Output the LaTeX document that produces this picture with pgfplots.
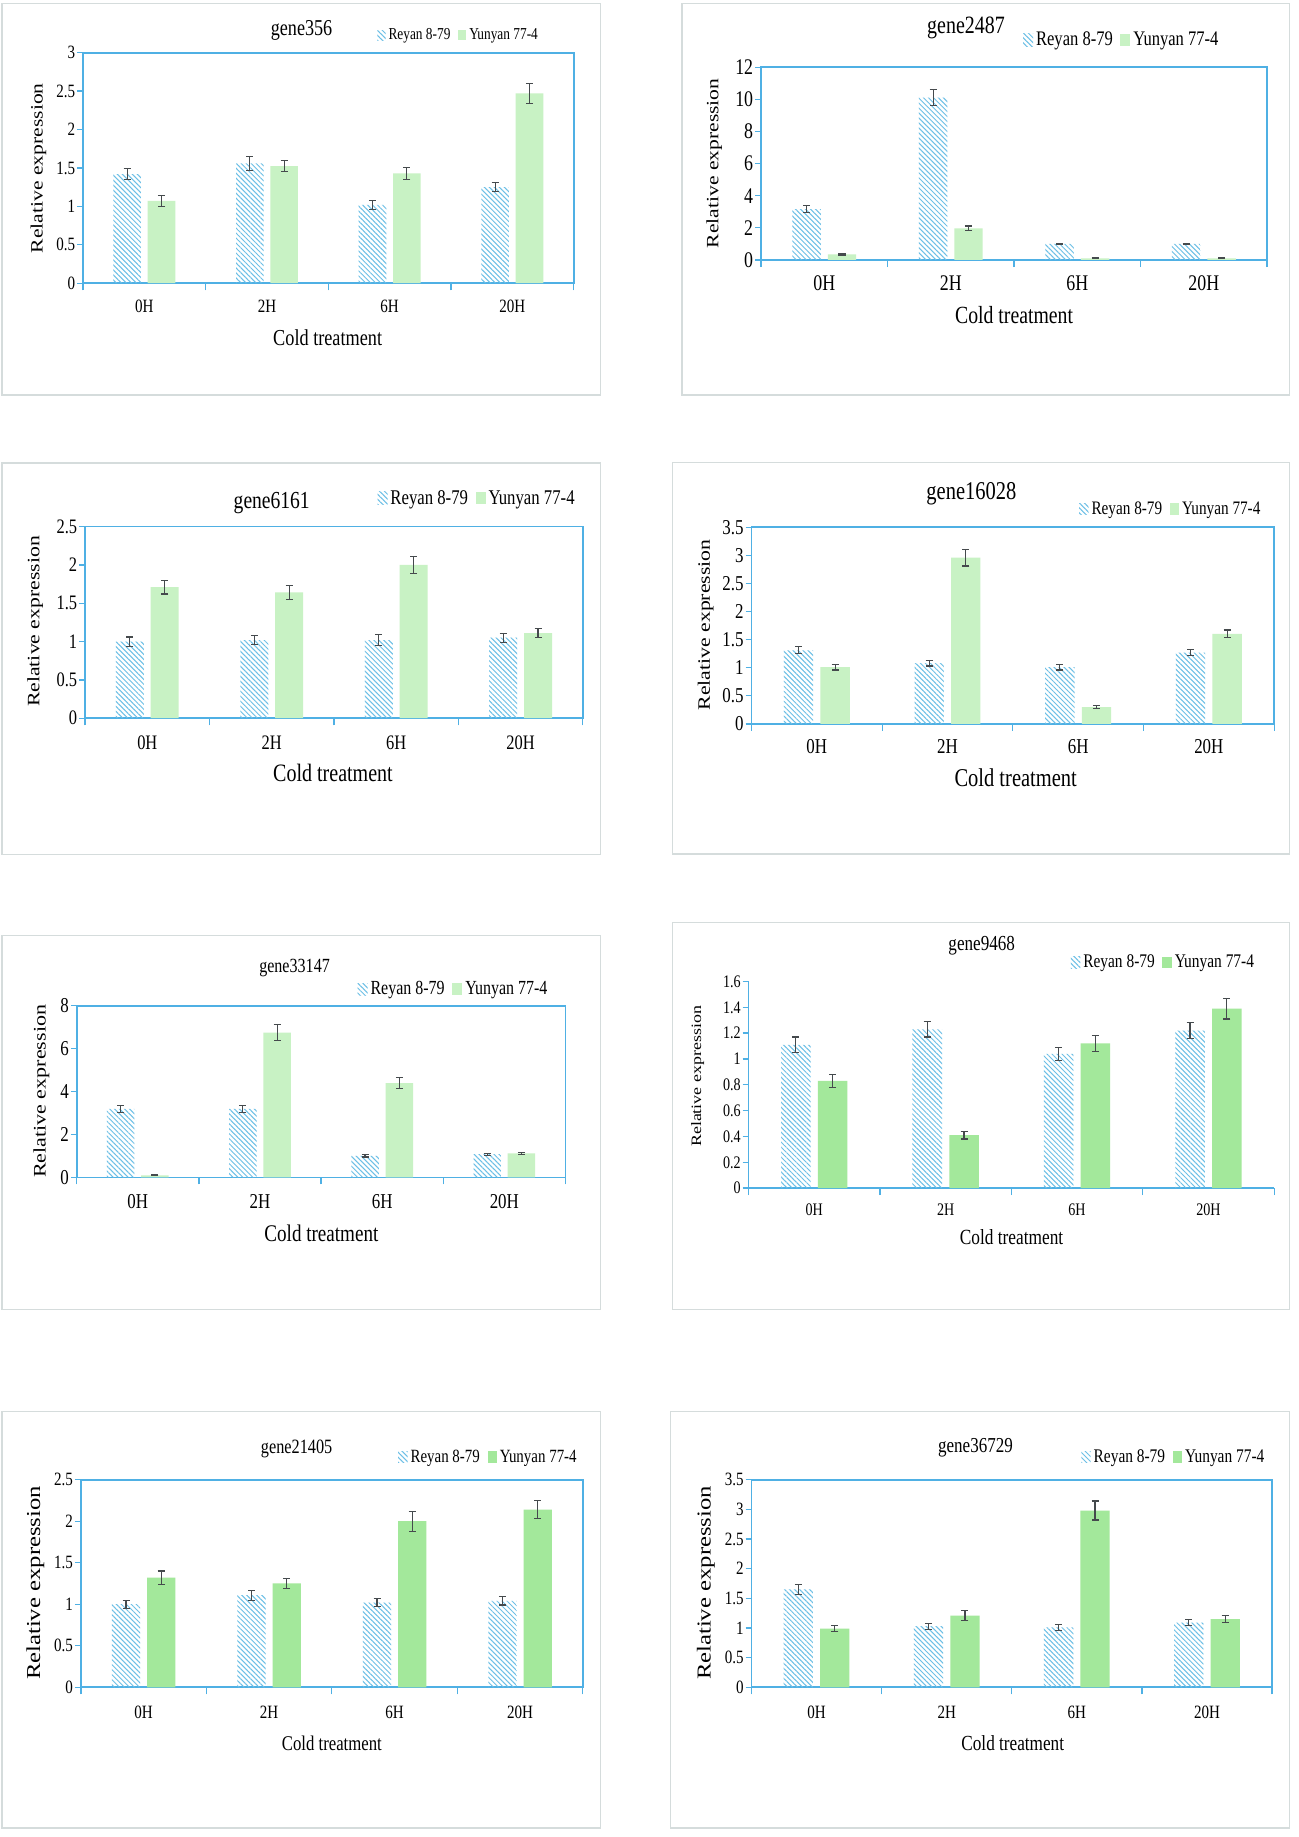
\documentclass[border=0pt]{standalone}
\usepackage{fontspec}
\setmainfont{Liberation Serif}[FakeStretch=0.8]
\newfontfamily\vfont{Liberation Serif}[FakeStretch=1.25]
\usepackage{pgfplots}
\pgfplotsset{compat=1.18}
\usetikzlibrary{patterns.meta}
\definecolor{axisblue}{HTML}{4FB0E4}
\definecolor{hatchblue}{HTML}{6CBFE6}
\definecolor{greenA}{HTML}{C8F2C4}
\definecolor{greenB}{HTML}{A3E89B}
\definecolor{errgray}{HTML}{454A4D}
\definecolor{boxgray}{HTML}{D5DCDC}
\newcommand{\fs}[1]{\fontsize{#1}{#1}\selectfont}
\pgfplotsset{
  gb/.style={
    scale only axis, anchor=south west,
    xmin=-0.5, xmax=3.5, ymin=0,
    xtick={0,1,2,3}, xticklabels={0H,2H,6H,20H},
    minor xtick={-0.5,0.5,1.5,2.5,3.5},
    tick align=outside, xtick pos=bottom, ytick pos=left,
    major tick length=5pt, minor tick length=6pt,
    tick style={draw=axisblue, line width=1.1pt},
    every major x tick/.append style={draw=none},
    axis line style={draw=axisblue, line width=1.5pt},
    /pgf/number format/assume math mode=true,
    yticklabel style={anchor=east, inner xsep=1.5pt},
    legend columns=2,
    legend cell align=left,
    legend style={draw=none, fill=none, inner sep=0pt, outer sep=0pt, anchor=west,
       nodes={inner xsep=2.5pt, inner ysep=0pt},
       /tikz/every even column/.append style={column sep=4pt}},
    every axis title/.style={anchor=center},
    every axis x label/.style={anchor=center},
    every axis y label/.style={anchor=center, rotate=90},
  },
  lgimg/.style 2 args={legend image code/.code={\path[##1, draw=none] (0pt,-#2) rectangle (#1,#2);}},
  errs/.style={error bars/.cd, y dir=both, y explicit,
     error bar style={draw=errgray, line width=1pt},
     error mark options={rotate=90, draw=errgray, line width=1pt, mark size=3pt}},
  rey/.style={ybar, bar width=0.225, bar shift=0pt, draw=none,
     pattern={Lines[angle=-45,distance=3pt,line width=0.85pt]}, pattern color=hatchblue, errs},
  yun/.style={ybar, bar width=0.225, bar shift=0pt, draw=none, fill=#1, errs},
}
\begin{document}
\begin{tikzpicture}
\useasboundingbox (0,0) rectangle (1105pt,1563pt);
\fill[white] (0,0) rectangle (1105pt,1563pt);
% panel frames
\draw[boxgray, line width=1.2pt] (1.8pt,1227pt) rectangle (511pt,1560.2pt);
\draw[boxgray, line width=1.2pt] (580.4pt,1227pt) rectangle (1097pt,1560.2pt);
\draw[boxgray, line width=1.2pt] (1.8pt,835.7pt) rectangle (511pt,1168.9pt);
\draw[boxgray, line width=1.2pt] (572.3pt,836.3pt) rectangle (1097pt,1169.4pt);
\draw[boxgray, line width=1.2pt] (1.8pt,448.6pt) rectangle (511pt,766.8pt);
\draw[boxgray, line width=1.2pt] (572.3pt,448.6pt) rectangle (1097pt,778.1pt);
\draw[boxgray, line width=1.2pt] (1.8pt,7.7pt) rectangle (511pt,362.2pt);
\draw[boxgray, line width=1.2pt] (570.5pt,7.7pt) rectangle (1097pt,362.2pt);

% ---------- gene356 ----------
\begin{axis}[gb, at={(70.6pt,1322pt)}, width=417.5pt, height=196.2pt,
  ymax=3, ytick={0,0.5,1,1.5,2,2.5,3},
  tick label style={font=\fs{16}}, xticklabel style={anchor=base, yshift=-19.6pt},
  title={gene356}, title style={at={(axis description cs:0.4455,1.096)}, font=\fs{19.3}},
  xlabel={Cold treatment}, xlabel style={at={(axis description cs:0.4987,-0.2345)}, font=\fs{19.4}},
  ylabel={Relative expression}, ylabel style={at={(axis description cs:-0.0905,0.4985)}, font=\vfont\fs{14.7}},
  legend style={at={(axis description cs:0.600,1.076)}, font=\fs{14.2}}, lgimg={7pt}{4.3pt}]
\addplot[rey] coordinates {(-0.14,1.42) +- (0,0.075) (0.86,1.56) +- (0,0.09) (1.86,1.02) +- (0,0.06) (2.86,1.25) +- (0,0.06)};
\addplot[yun=greenA] coordinates {(0.14,1.07) +- (0,0.07) (1.14,1.525) +- (0,0.075) (2.14,1.43) +- (0,0.08) (3.14,2.47) +- (0,0.13)};
\legend{Reyan 8-79, Yunyan 77-4}
\end{axis}

% ---------- gene2487 ----------
\begin{axis}[gb, at={(647.5pt,1341.8pt)}, width=430.6pt, height=163.9pt,
  ymax=12, ytick={0,2,4,6,8,10,12},
  tick label style={font=\fs{19}}, xticklabel style={anchor=base, yshift=-21.1pt},
  title={gene2487}, title style={at={(axis description cs:0.405,1.2026)}, font=\fs{21.2}},
  xlabel={Cold treatment}, xlabel style={at={(axis description cs:0.5,-0.2855)}, font=\fs{21}},
  ylabel={Relative expression}, ylabel style={at={(axis description cs:-0.0927,0.5015)}, font=\vfont\fs{14.7}},
  legend style={at={(axis description cs:0.518,1.142)}, font=\fs{17.6}}, lgimg={8.5pt}{5.3pt}]
\addplot[rey] coordinates {(-0.14,3.17) +- (0,0.2) (0.86,10.12) +- (0,0.5) (1.86,1.0) +- (0,0.05) (2.86,1.0) +- (0,0.05)};
\addplot[yun=greenA] coordinates {(0.14,0.35) +- (0,0.04) (1.14,1.97) +- (0,0.15) (2.14,0.1) +- (0,0.02) (3.14,0.1) +- (0,0.02)};
\legend{Reyan 8-79, Yunyan 77-4}
\end{axis}

% ---------- gene6161 ----------
\begin{axis}[gb, at={(72.4pt,951.9pt)}, width=423.5pt, height=163.1pt,
  ymax=2.5, ytick={0,0.5,1,1.5,2,2.5},
  tick label style={font=\fs{17.5}}, xticklabel style={anchor=base, yshift=-21.5pt},
  title={gene6161}, title style={at={(axis description cs:0.375,1.1214)}, font=\fs{20.8}},
  xlabel={Cold treatment}, xlabel style={at={(axis description cs:0.498,-0.2863)}, font=\fs{21.3}},
  ylabel={Relative expression}, ylabel style={at={(axis description cs:-0.1001,0.5046)}, font=\vfont\fs{14.8}},
  legend style={at={(axis description cs:0.5875,1.1478)}, font=\fs{17.8}}, lgimg={8.5pt}{5.3pt}]
\addplot[rey] coordinates {(-0.14,1.0) +- (0,0.06) (0.86,1.02) +- (0,0.06) (1.86,1.02) +- (0,0.07) (2.86,1.05) +- (0,0.06)};
\addplot[yun=greenA] coordinates {(0.14,1.71) +- (0,0.09) (1.14,1.64) +- (0,0.09) (2.14,2.0) +- (0,0.11) (3.14,1.11) +- (0,0.06)};
\legend{Reyan 8-79, Yunyan 77-4}
\end{axis}

% ---------- gene16028 ----------
\begin{axis}[gb, at={(639.4pt,947.1pt)}, width=444.7pt, height=167.3pt,
  ymax=3.5, ytick={0,0.5,1,1.5,2,2.5,3,3.5},
  tick label style={font=\fs{18}}, xticklabel style={anchor=base, yshift=-20.2pt},
  title={gene16028}, title style={at={(axis description cs:0.4207,1.1727)}, font=\fs{21.8}},
  xlabel={Cold treatment}, xlabel style={at={(axis description cs:0.5055,-0.2762)}, font=\fs{21.8}},
  ylabel={Relative expression}, ylabel style={at={(axis description cs:-0.0875,0.5033)}, font=\vfont\fs{14.8}},
  legend style={at={(axis description cs:0.627,1.0932)}, font=\fs{16.2}}, lgimg={8pt}{4.9pt}]
\addplot[rey] coordinates {(-0.14,1.31) +- (0,0.06) (0.86,1.08) +- (0,0.05) (1.86,1.01) +- (0,0.05) (2.86,1.27) +- (0,0.06)};
\addplot[yun=greenA] coordinates {(0.14,1.01) +- (0,0.05) (1.14,2.96) +- (0,0.15) (2.14,0.3) +- (0,0.02) (3.14,1.6) +- (0,0.07)};
\legend{Reyan 8-79, Yunyan 77-4}
\end{axis}

% ---------- gene33147 ----------
\begin{axis}[gb, at={(65.3pt,561.2pt)}, width=415.8pt, height=146pt,
  ymax=8, ytick={0,2,4,6,8},
  tick label style={font=\fs{18}}, xticklabel style={anchor=base, yshift=-21.3pt},
  title={gene33147}, title style={at={(axis description cs:0.4457,1.2199)}, font=\fs{17.1}},
  xlabel={Cold treatment}, xlabel style={at={(axis description cs:0.5007,-0.324)}, font=\fs{20.3}},
  ylabel={Relative expression}, ylabel style={at={(axis description cs:-0.0722,0.5014)}, font=\vfont\fs{15}},
  legend style={at={(axis description cs:0.5748,1.0973)}, font=\fs{17}}, lgimg={8.5pt}{5.1pt}]
\addplot[rey] coordinates {(-0.14,3.19) +- (0,0.18) (0.86,3.19) +- (0,0.18) (1.86,1.0) +- (0,0.05) (2.86,1.08) +- (0,0.05)};
\addplot[yun=greenA] coordinates {(0.14,0.09) +- (0,0.02) (1.14,6.75) +- (0,0.38) (2.14,4.39) +- (0,0.25) (3.14,1.12) +- (0,0.05)};
\legend{Reyan 8-79, Yunyan 77-4}
\end{axis}

% ---------- gene9468 ----------
\begin{axis}[gb, at={(636.9pt,552.1pt)}, width=447.2pt, height=175.8pt,
  axis lines*=left,
  ymax=1.6, ytick={0,0.2,0.4,0.6,0.8,1,1.2,1.4,1.6},
  tick label style={font=\fs{15}}, xticklabel style={anchor=base, yshift=-18.4pt},
  title={gene9468}, title style={at={(axis description cs:0.4436,1.1729)}, font=\fs{18.2}},
  xlabel={Cold treatment}, xlabel style={at={(axis description cs:0.5004,-0.2372)}, font=\fs{18.4}},
  ylabel={Relative expression}, ylabel style={at={(axis description cs:-0.097,0.5404)}, font=\vfont\fs{12.2}},
  legend style={at={(axis description cs:0.6134,1.0922)}, font=\fs{16.4}}, lgimg={8pt}{5pt}]
\addplot[rey] coordinates {(-0.14,1.11) +- (0,0.06) (0.86,1.23) +- (0,0.06) (1.86,1.04) +- (0,0.05) (2.86,1.22) +- (0,0.06)};
\addplot[yun=greenB] coordinates {(0.14,0.83) +- (0,0.05) (1.14,0.41) +- (0,0.03) (2.14,1.12) +- (0,0.06) (3.14,1.39) +- (0,0.08)};
\legend{Reyan 8-79, Yunyan 77-4}
\end{axis}

% ---------- gene21405 ----------
\begin{axis}[gb, at={(68.8pt,127.4pt)}, width=427.1pt, height=176.6pt,
  ymax=2.5, ytick={0,0.5,1,1.5,2,2.5},
  tick label style={font=\fs{16}}, xticklabel style={anchor=base, yshift=-21.6pt},
  title={gene21405}, title style={at={(axis description cs:0.4299,1.1478)}, font=\fs{17.3}},
  xlabel={Cold treatment}, xlabel style={at={(axis description cs:0.5001,-0.2684)}, font=\fs{17.8}},
  ylabel={Relative expression}, ylabel style={at={(axis description cs:-0.0908,0.5023)}, font=\vfont\fs{16.8}},
  legend style={at={(axis description cs:0.6322,1.1093)}, font=\fs{15.9}}, lgimg={8pt}{4.8pt}]
\addplot[rey] coordinates {(-0.14,1.0) +- (0,0.05) (0.86,1.11) +- (0,0.06) (1.86,1.02) +- (0,0.05) (2.86,1.04) +- (0,0.05)};
\addplot[yun=greenB] coordinates {(0.14,1.32) +- (0,0.08) (1.14,1.25) +- (0,0.06) (2.14,2.0) +- (0,0.12) (3.14,2.14) +- (0,0.11)};
\legend{Reyan 8-79, Yunyan 77-4}
\end{axis}

% ---------- gene36729 ----------
\begin{axis}[gb, at={(639.4pt,127.4pt)}, width=442.9pt, height=176.6pt,
  ymax=3.5, ytick={0,0.5,1,1.5,2,2.5,3,3.5},
  tick label style={font=\fs{16}}, xticklabel style={anchor=base, yshift=-21.6pt},
  title={gene36729}, title style={at={(axis description cs:0.4303,1.1529)}, font=\fs{18.1}},
  xlabel={Cold treatment}, xlabel style={at={(axis description cs:0.5019,-0.2684)}, font=\fs{18.3}},
  ylabel={Relative expression}, ylabel style={at={(axis description cs:-0.0878,0.5023)}, font=\vfont\fs{16.8}},
  legend style={at={(axis description cs:0.6336,1.1093)}, font=\fs{16.4}}, lgimg={8pt}{5pt}]
\addplot[rey] coordinates {(-0.14,1.65) +- (0,0.08) (0.86,1.03) +- (0,0.05) (1.86,1.01) +- (0,0.05) (2.86,1.09) +- (0,0.05)};
\addplot[yun=greenB] coordinates {(0.14,0.99) +- (0,0.05) (1.14,1.21) +- (0,0.08) (2.14,2.98) +- (0,0.16) (3.14,1.15) +- (0,0.06)};
\legend{Reyan 8-79, Yunyan 77-4}
\end{axis}
\end{tikzpicture}
\end{document}
